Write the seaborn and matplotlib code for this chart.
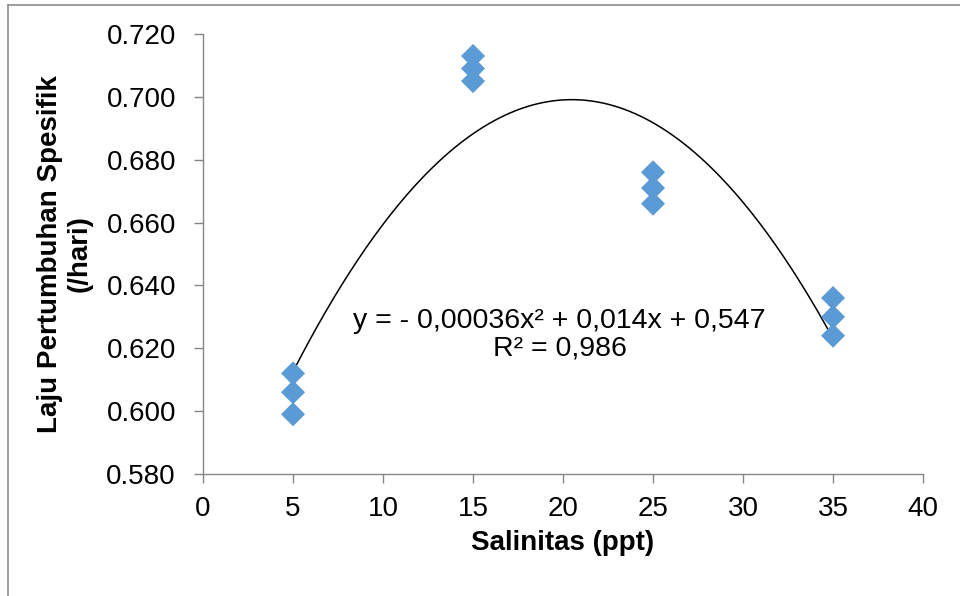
import numpy as np
import pandas as pd
import matplotlib
matplotlib.use("Agg")
import matplotlib.pyplot as plt
import seaborn as sns
from matplotlib.lines import Line2D
from matplotlib.ticker import FormatStrFormatter

# ================= DATA =================
salinitas = [5, 5, 5, 15, 15, 15, 25, 25, 25, 35, 35, 35]
laju = [0.612, 0.606, 0.599,
        0.713, 0.709, 0.705,
        0.676, 0.671, 0.666,
        0.636, 0.630, 0.624]

x_ticks = [0, 5, 10, 15, 20, 25, 30, 35, 40]
y_ticks = [0.580, 0.600, 0.620, 0.640, 0.660, 0.680, 0.700, 0.720]

persamaan = "y = - 0,00036x² + 0,014x + 0,547\nR² = 0,986"

df = pd.DataFrame({"salinitas": salinitas, "laju": laju})

# ================= STYLE =================
sns.set_style("white")
plt.rcParams["font.family"] = ["Liberation Sans", "DejaVu Sans"]
plt.rcParams["text.color"] = "black"
plt.rcParams["axes.labelcolor"] = "black"
grey = "#868686"

fig = plt.figure(figsize=(9.6, 5.96), dpi=100)
ax = fig.add_axes([0.2115, 0.2047, 0.75, 0.7383])

# ================= SCATTER + TREND =================
sns.scatterplot(data=df, x="salinitas", y="laju", marker="D", s=150,
                color="#5B9BD5", edgecolor="none", ax=ax, zorder=3)

coef = np.polyfit(df["salinitas"], df["laju"], 2)
xs = np.linspace(min(salinitas), max(salinitas), 200)
ax.plot(xs, np.polyval(coef, xs), color="black", lw=1.1, zorder=2)

ax.text(19.8, 0.6243, persamaan, ha="center", va="center",
        fontsize=20.5, linespacing=1.05)

# ================= AXES =================
ax.set_xlim(0, 40)
ax.set_ylim(0.58, 0.72)
ax.set_xticks(x_ticks)
ax.set_yticks(y_ticks)
ax.yaxis.set_major_formatter(FormatStrFormatter("%.3f"))
ax.tick_params(axis="both", labelsize=20, colors=grey, labelcolor="black",
               length=6.5, width=1, direction="out")
ax.tick_params(axis="x", bottom=True, pad=9)
ax.tick_params(axis="y", left=True, pad=13)
for side in ["top", "right"]:
    ax.spines[side].set_visible(False)
for side in ["left", "bottom"]:
    ax.spines[side].set_color(grey)
    ax.spines[side].set_linewidth(1)

ax.set_xlabel("Salinitas (ppt)", fontsize=20, fontweight="bold", labelpad=6)
ax.set_ylabel("Laju Pertumbuhan Spesifik\n(/hari)", fontsize=20,
              fontweight="bold", labelpad=10, linespacing=1.15)

# frame lines of the original chart area
fig.add_artist(Line2D([8 / 960, 1], [1 - 5 / 596, 1 - 5 / 596],
                      transform=fig.transFigure, color="#8c8c8c", lw=1.2))
fig.add_artist(Line2D([8 / 960, 8 / 960], [0, 1 - 5 / 596],
                      transform=fig.transFigure, color="#8c8c8c", lw=1.2))

fig.savefig("out.png", dpi=100)
